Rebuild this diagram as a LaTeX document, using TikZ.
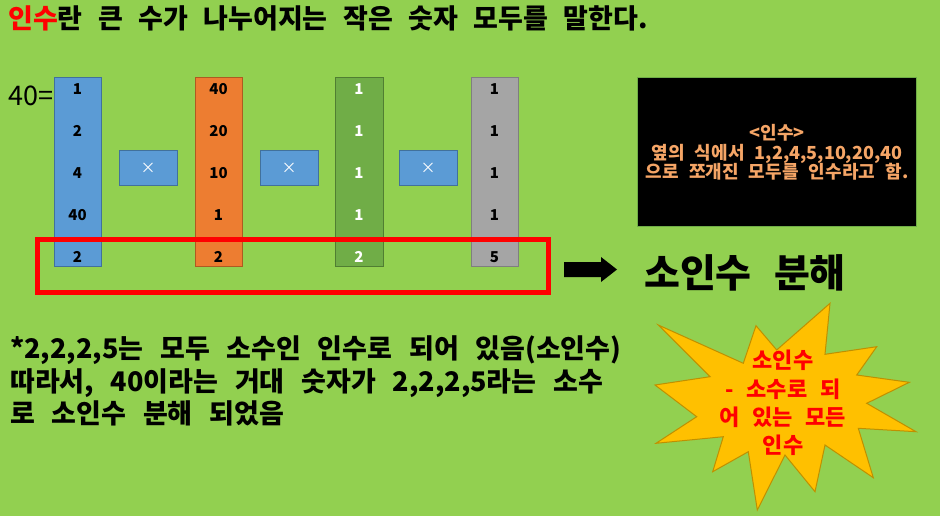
\documentclass[tikz,border=0pt]{standalone}
\usepackage{fontspec}
\setmainfont{Noto Sans CJK KR}
\newfontfamily\kr[WordSpace=2.5]{Noto Sans CJK KR}
\usepackage{tikz}
\usetikzlibrary{arrows, arrows.meta}
\newcommand{\notespace}{\spaceskip=0.62em\relax}
\definecolor{bggreen}{HTML}{92D050}
\definecolor{xblue}{HTML}{5B9BD5}
\definecolor{xblueline}{HTML}{41719C}
\definecolor{xorange}{HTML}{ED7D31}
\definecolor{xorangeline}{HTML}{AE5A21}
\definecolor{xgreen}{HTML}{70AD47}
\definecolor{xgreenline}{HTML}{507E32}
\definecolor{xgray}{HTML}{A5A5A5}
\definecolor{xgrayline}{HTML}{7F7F7F}
\definecolor{boxtext}{HTML}{F5A566}
\definecolor{staryellow}{HTML}{FFC000}
\definecolor{starline}{HTML}{BF9000}
\tikzset{
	colbox/.style={draw, line width=1, inner sep=0, minimum width=47, minimum height=188},
	timesbox/.style={draw=xblueline, fill=xblue, line width=1, inner sep=0, minimum width=58, minimum height=34, text=white, font=\fontsize{15}{15}\selectfont},
	num/.style={inner sep=0, font=\bfseries\fontsize{15}{15}\selectfont},
}

\begin{document}
\begin{tikzpicture}[x=1pt, y=-1pt]
			
			\fill[bggreen] (0,0) rectangle (940,516);
			\useasboundingbox (0,0) rectangle (940,516);
			
			\draw(8,18) node[anchor=west, inner sep=0, font=\kr\bfseries\fontsize{27}{30}\selectfont](title){\textcolor{red}{인수}란 큰 수가 나누어지는 작은 숫자 모두를 말한다.};
			
			\draw(8,95.5) node[anchor=west, inner sep=0, font=\fontsize{27}{27}\selectfont](forty){40=};
			
			\draw(77.5,172) node[colbox, draw=xblueline, fill=xblue](col1){};
			\draw(218.5,172) node[colbox, draw=xorangeline, fill=xorange](col2){};
			\draw(359,172) node[colbox, draw=xgreenline, fill=xgreen, minimum width=48](col3){};
			\draw(494.5,172) node[colbox, draw=xgrayline, fill=xgray](col4){};
			
			\draw(148,168) node[timesbox](x1){×};
			\draw(289,168) node[timesbox](x2){×};
			\draw(428,168) node[timesbox](x3){×};
			
			\draw(77.5,89) node[num](a1){1};
			\draw(77.5,131) node[num](a2){2};
			\draw(77.5,173) node[num](a3){4};
			\draw(77.5,215) node[num](a4){40};
			\draw(77.5,257) node[num](a5){2};
			
			\draw(218.5,89) node[num](b1){40};
			\draw(218.5,131) node[num](b2){20};
			\draw(218.5,173) node[num](b3){10};
			\draw(218.5,215) node[num](b4){1};
			\draw(218.5,257) node[num](b5){2};
			
			\draw(359,89) node[num, text=white](c1){1};
			\draw(359,131) node[num, text=white](c2){1};
			\draw(359,173) node[num, text=white](c3){1};
			\draw(359,215) node[num, text=white](c4){1};
			\draw(359,257) node[num, text=white](c5){2};
			
			\draw(494.5,89) node[num](d1){1};
			\draw(494.5,131) node[num](d2){1};
			\draw(494.5,173) node[num](d3){1};
			\draw(494.5,215) node[num](d4){1};
			\draw(494.5,257) node[num](d5){5};
			
			\draw[red, line width=5] (37.5,239.5) rectangle (548,292);
			
			\fill[black] (564,262) -- (601,262) -- (601,257) -- (617,269.5) -- (601,282) -- (601,277) -- (564,277) -- cycle;
			
			\draw(745,273) node[inner sep=0, font=\kr\bfseries\fontsize{39}{39}\selectfont](soinsu){소인수 분해};
			
			\draw(776.5,152) node[draw=xgreen, fill=black, line width=1, minimum width=279, minimum height=148, inner sep=0](infobox){};
			\draw(777,152.5) node[align=center, inner sep=0, text=boxtext, font=\kr\bfseries\fontsize{18}{19.5}\selectfont](infotext){<인수>\\옆의 식에서 1,2,4,5,10,20,40\\으로 쪼개진 모두를 인수라고 함.};
			
			\draw(10,381) node[anchor=west, align=left, inner sep=0, font=\kr\bfseries\fontsize{27}{32.5}\selectfont](note){\notespace *2,2,2,5는 모두 소수인 인수로 되어 있음(소인수)\\\notespace 따라서, 40이라는 거대 숫자가 2,2,2,5라는 소수\\\notespace 로 소인수 분해 되었음};
			
			\draw[fill=staryellow, draw=starline, line width=1] (658.3,325) -- (743.3,363.3) -- (756,325.7) -- (776.7,350) -- (830,303.3) -- (825,354.3) -- (876.7,346.7) -- (856.7,375) -- (909.3,382.3) -- (866.7,403.3) -- (916,431.7) -- (858.3,428.3) -- (873.3,477.7) -- (825,445) -- (815,491.7) -- (785,455) -- (757.3,510) -- (748.3,451.7) -- (712.7,471.7) -- (723.3,436.7) -- (656,443.3) -- (696.7,416.7) -- (655,385) -- (710,376.7) -- cycle;
			\draw(783,403) node[align=center, inner sep=0, text=red, font=\kr\bfseries\fontsize{22}{28.3}\selectfont](startext){소인수\\- 소수로 되\\어 있는 모든\\인수};
			
		\end{tikzpicture}
\end{document}
